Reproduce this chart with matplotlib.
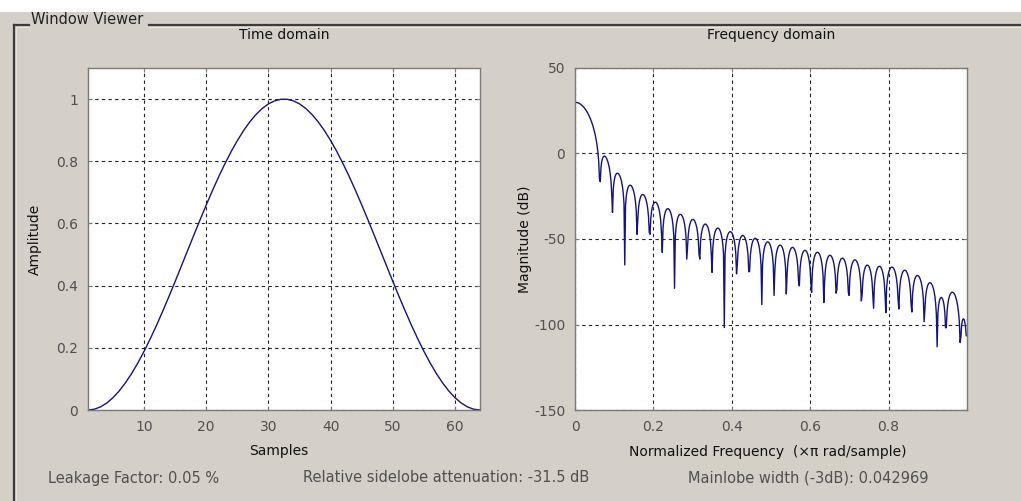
import numpy as np
import matplotlib
matplotlib.use("Agg")
import matplotlib.pyplot as plt
from matplotlib.lines import Line2D
from matplotlib.patches import Rectangle

# ---------------------------------------------
#  data: 64-point Hann window and the readouts
# ---------------------------------------------
window = [
    0.0, 0.00248, 0.00991, 0.02221, 0.03926, 0.06089, 0.08688, 0.11698,
    0.15088, 0.18826, 0.22871, 0.27189, 0.31733, 0.36458, 0.41318, 0.46263,
    0.51247, 0.56217, 0.61126, 0.65925, 0.70565, 0.75, 0.79187, 0.83083,
    0.86653, 0.89857, 0.92664, 0.95048, 0.96985, 0.98454, 0.99442, 0.99938,
    0.99938, 0.99442, 0.98454, 0.96985, 0.95048, 0.92664, 0.89857, 0.86653,
    0.83083, 0.79187, 0.75, 0.70565, 0.65925, 0.61126, 0.56217, 0.51247,
    0.46263, 0.41318, 0.36458, 0.31733, 0.27189, 0.22871, 0.18826, 0.15088,
    0.11698, 0.08688, 0.06089, 0.03926, 0.02221, 0.00991, 0.00248, 0.0,
]
nfft = 1024

time_yticks = [0, 0.2, 0.4, 0.6, 0.8, 1]
time_xticks = [10, 20, 30, 40, 50, 60]
freq_yticks = [50, 0, -50, -100, -150]
freq_xticks = [0, 0.2, 0.4, 0.6, 0.8]

leakage_txt = "Leakage Factor: 0.05 %"
sidelobe_txt = "Relative sidelobe attenuation: -31.5 dB"
mainlobe_txt = "Mainlobe width (-3dB): 0.042969"

# ---------------------------------------------
#  derived curves
# ---------------------------------------------
w = np.array(window)
samples = np.arange(1, len(w) + 1)
spec = np.fft.fft(w, nfft)[: nfft // 2]
freq = np.arange(nfft // 2) / (nfft // 2)
mag_db = 20 * np.log10(np.abs(spec) + 1e-12)

# ---------------------------------------------
#  figure / styling
# ---------------------------------------------
W, H = 1021, 501
BG = "#d4d0c8"
LINE = "#14147a"
TICK = "#505050"
plt.rcParams["font.family"] = ["DejaVu Sans"]
plt.rcParams["font.size"] = 10
plt.rcParams["axes.unicode_minus"] = False

fig = plt.figure(figsize=(W / 100, H / 100), dpi=100, facecolor=BG)


def fx(x):
    return x / W


def fy(y):
    return 1 - y / H


# white strip across the very top
fig.add_artist(Rectangle((0, fy(12)), 1, 12 / H, transform=fig.transFigure,
                         facecolor="white", edgecolor="none"))

# group box frame (dark line with a faint light edge under it)
for off, col, lw in [(0, "#3c3c3c", 1.6), (1.5, "#e6e3dd", 0.8)]:
    fig.add_artist(Line2D([fx(14 + off), fx(14 + off)], [fy(25 + off), 0],
                          transform=fig.transFigure, color=col, lw=lw))
    fig.add_artist(Line2D([fx(14 + off), fx(29)], [fy(25 + off), fy(25 + off)],
                          transform=fig.transFigure, color=col, lw=lw))
    fig.add_artist(Line2D([fx(149), 1], [fy(25 + off), fy(25 + off)],
                          transform=fig.transFigure, color=col, lw=lw))
fig.text(fx(31), fy(19), "Window Viewer", ha="left", va="center",
         fontsize=10.5, color="#222222")


def setup_axes(ax):
    ax.set_facecolor("white")
    for s in ax.spines.values():
        s.set_color("#7a7a7a")
        s.set_linewidth(1.0)
    ax.grid(True, color="#222222", linestyle=(0, (3, 3)), linewidth=0.8)
    ax.tick_params(direction="in", length=3, color="#7a7a7a", labelcolor=TICK,
                   labelsize=10, pad=7, top=True, right=True)


# time domain
ax1 = fig.add_axes([fx(88), fy(410), (480 - 88) / W, (410 - 68) / H])
setup_axes(ax1)
ax1.plot(samples, w, color=LINE, lw=1.0)
ax1.set_xlim(1, 64)
ax1.set_ylim(0, 1.1)
ax1.set_xticks(time_xticks)
ax1.set_yticks(time_yticks)
ax1.set_yticklabels(["0", "0.2", "0.4", "0.6", "0.8", "1"])

# frequency domain
ax2 = fig.add_axes([fx(575), fy(410), (967 - 575) / W, (410 - 68) / H])
setup_axes(ax2)
ax2.plot(freq, mag_db, color=LINE, lw=1.0)
ax2.set_xlim(0, 1)
ax2.set_ylim(-150, 50)
ax2.set_xticks(freq_xticks)
ax2.set_xticklabels(["0", "0.2", "0.4", "0.6", "0.8"])
ax2.set_yticks(freq_yticks)

# titles and labels
fig.text(fx(284), fy(35), "Time domain", ha="center", va="center", color="#111111")
fig.text(fx(771), fy(35), "Frequency domain", ha="center", va="center", color="#111111")
fig.text(fx(35), fy(239), "Amplitude", ha="center", va="center",
         rotation=90, color="#111111")
fig.text(fx(525), fy(239), "Magnitude (dB)", ha="center", va="center",
         rotation=90, color="#111111")
fig.text(fx(279), fy(451), "Samples", ha="center", va="center", color="#111111")
fig.text(fx(768), fy(452), "Normalized Frequency  (\u00d7\u03c0 rad/sample)",
         ha="center", va="center", color="#111111")

# readouts at the bottom
fig.text(fx(48), fy(478), leakage_txt, ha="left", va="center", color=TICK, fontsize=10.5)
fig.text(fx(303), fy(478), sidelobe_txt, ha="left", va="center", color=TICK, fontsize=10.5)
fig.text(fx(688), fy(478), mainlobe_txt, ha="left", va="center", color=TICK, fontsize=10.5)

fig.savefig("out.png", dpi=100, facecolor=BG)
